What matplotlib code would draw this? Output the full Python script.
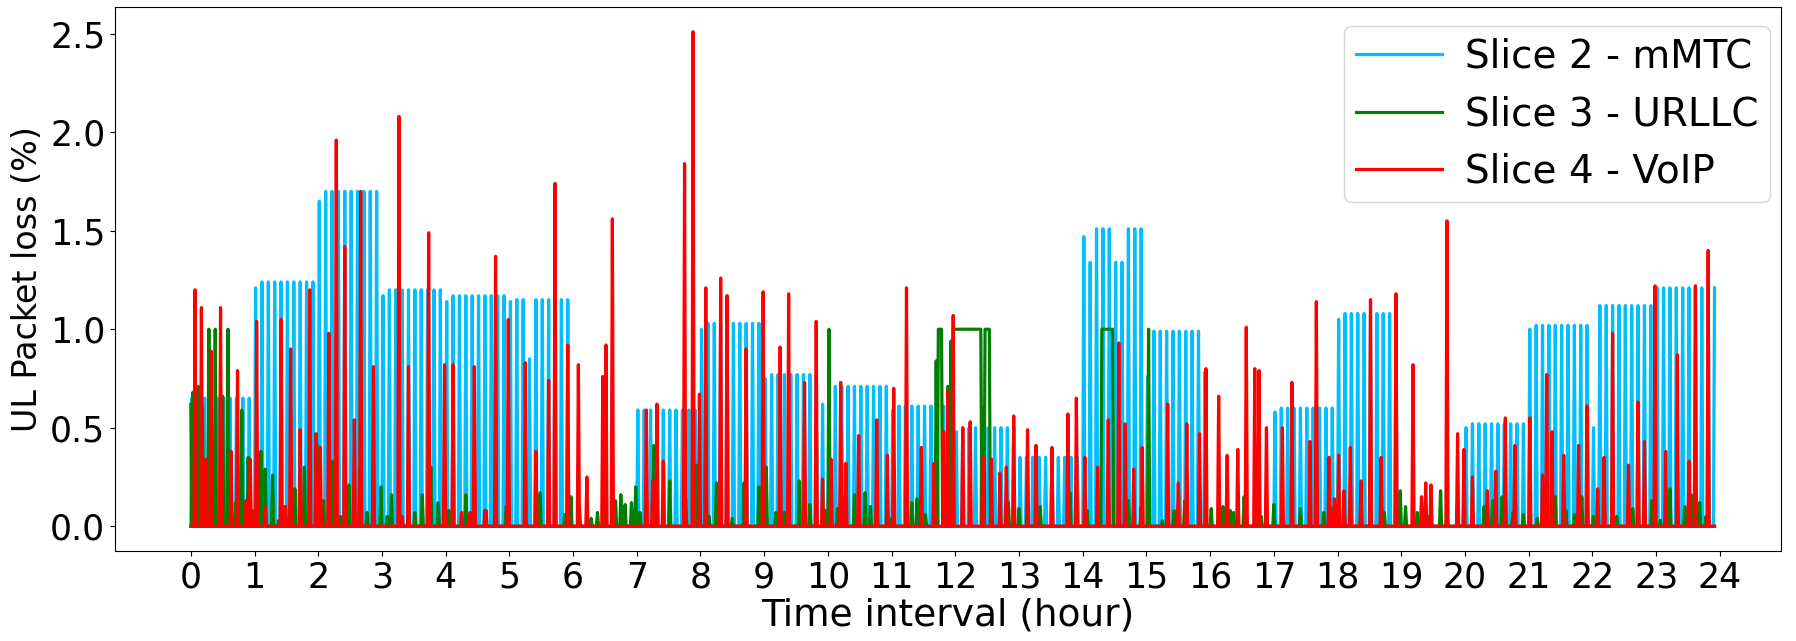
import numpy as np
import matplotlib
matplotlib.use('Agg')
import matplotlib.pyplot as plt

# one sample per minute over the day
n_min = 1436

# Slice 2 - mMTC: 10 peaks per hour (every 6 min), read hour by hour
mmtc_peaks = [
    [0.65, 0.65, 0.65, 0.65, 0.65, 0.65, 0.65, 0.65, 0.65, 0.65],  # 0
    [1.21, 1.24, 1.24, 1.24, 1.24, 1.24, 1.24, 1.24, 1.24, 1.24],  # 1
    [1.65, 1.70, 1.70, 1.70, 1.70, 1.70, 1.70, 1.70, 1.70, 1.70],  # 2
    [1.17, 1.20, 1.20, 1.20, 1.20, 1.20, 1.20, 1.20, 1.20, 1.20],  # 3
    [1.14, 1.17, 1.17, 1.17, 1.17, 1.17, 1.17, 1.17, 1.17, 1.17],  # 4
    [1.14, 1.15, 1.15, 0.85, 1.15, 1.15, 1.15, 1.15, 1.15, 1.15],  # 5
    [0, 0, 0, 0, 0, 0, 0, 0, 0, 0],                                # 6
    [0.59, 0.59, 0.59, 0.59, 0.59, 0.59, 0.59, 0.59, 0.59, 0.59],  # 7
    [1.00, 1.03, 1.03, 1.03, 1.17, 1.03, 1.03, 1.03, 1.03, 1.03],  # 8
    [0.75, 0.77, 0.77, 0.77, 0.77, 0.77, 0.77, 0.77, 0.77, 0.62],  # 9
    [0.70, 0.71, 0.71, 0.71, 0.71, 0.71, 0.71, 0.71, 0.71, 0.71],  # 10
    [0.59, 0.61, 0.61, 0.61, 0.61, 0.61, 0.61, 0.61, 0.61, 0.61],  # 11
    [0.48, 0.50, 0.50, 0.50, 0.50, 0.50, 0.50, 0.50, 0.50, 0.50],  # 12
    [0.35, 0.35, 0.35, 0.35, 0.35, 0.35, 0.35, 0.35, 0.35, 0.35],  # 13
    [1.47, 1.34, 1.51, 1.51, 1.51, 1.34, 1.34, 1.51, 1.51, 1.51],  # 14
    [0.76, 0.99, 0.99, 0.99, 0.99, 0.99, 0.99, 0.99, 0.99, 0.78],  # 15
    [0, 0, 0, 0, 0, 0, 0, 0, 0, 0],                                # 16
    [0.58, 0.60, 0.60, 0.60, 0.60, 0.60, 0.60, 0.60, 0.60, 0.60],  # 17
    [1.05, 1.08, 1.08, 1.08, 1.08, 1.08, 1.08, 1.08, 1.08, 1.08],  # 18
    [0, 0, 0, 0, 0, 0, 0, 0, 0, 0],                                # 19
    [0.50, 0.52, 0.52, 0.52, 0.52, 0.52, 0.52, 0.52, 0.52, 0.52],  # 20
    [1.00, 1.02, 1.02, 1.02, 1.02, 1.02, 1.02, 1.02, 1.02, 1.02],  # 21
    [0.50, 1.12, 1.12, 1.12, 1.12, 1.12, 1.12, 1.12, 1.12, 1.12],  # 22
    [1.21, 1.21, 1.21, 1.21, 1.21, 1.21, 1.21, 1.21, 1.21, 1.21],  # 23
]

# Slice 3 - URLLC: peaks (hour, value) and flat stretches (start, end, value)
urllc_t = [0.00, 0.03, 0.12, 0.18, 0.29, 0.39, 0.50, 0.59, 0.70, 0.80, 0.90, 0.97,
           1.10, 1.16, 1.29, 1.38, 1.49, 1.63, 1.79, 1.99, 2.09, 2.22, 2.35, 2.49,
           2.65, 2.77, 2.99, 3.08, 3.15, 3.42, 3.52, 3.63, 3.77, 3.89, 4.05, 4.32,
           4.63, 4.95, 5.25, 5.48, 5.86, 5.96, 6.10, 6.29, 6.38, 6.49, 6.66, 6.75,
           6.82, 6.92, 6.99, 7.05, 7.27, 7.52, 7.76, 7.94, 8.14, 8.25, 8.50, 8.69,
           8.91, 9.04, 9.18, 9.31, 9.39, 9.55, 9.72, 9.96, 10.01, 10.15, 10.24, 10.41,
           10.58, 10.66, 10.77, 11.00, 11.31, 11.40, 11.53, 11.66, 11.70, 11.82, 11.89, 11.94,
           12.44, 12.83, 13.00, 13.33, 13.80, 14.07, 14.71, 14.92, 15.04, 15.25, 15.43, 15.60,
           16.01, 16.20, 16.31, 16.36, 16.53, 16.80, 17.00, 17.42, 17.79, 17.90, 18.10, 18.36,
           18.74, 18.98, 19.06, 19.25, 19.42, 19.62, 19.72, 19.89, 20.30, 20.43, 20.59, 20.75,
           20.91, 21.13, 21.29, 21.41, 21.58, 21.72, 21.84, 22.01, 22.38, 22.64, 22.93, 23.06,
           23.21, 23.45, 23.55, 23.69, 23.79]
urllc_v = [0.62, 0.68, 0.71, 0.60, 1.00, 1.00, 0.66, 1.00, 0.12, 0.59, 0.35, 0.08,
           0.38, 0.29, 0.26, 0.03, 0.10, 0.19, 0.30, 0.41, 0.13, 0.33, 0.05, 0.21,
           0.29, 0.07, 0.20, 0.05, 0.16, 0.12, 0.07, 0.16, 0.30, 0.12, 0.08, 0.16,
           0.08, 0.10, 0.05, 0.17, 0.06, 0.15, 0.10, 0.04, 0.07, 0.11, 0.13, 0.16,
           0.11, 0.12, 0.20, 0.07, 0.41, 0.23, 0.14, 0.31, 0.05, 0.22, 0.04, 0.22,
           0.20, 0.30, 0.07, 0.07, 0.12, 0.23, 0.11, 0.08, 1.00, 0.09, 0.15, 0.16,
           0.17, 0.10, 0.05, 0.04, 0.12, 0.14, 0.06, 0.09, 0.84, 0.20, 0.71, 0.94,
           0.60, 0.12, 0.09, 0.10, 0.17, 0.08, 0.13, 0.10, 1.00, 0.03, 0.08, 0.13,
           0.09, 0.10, 0.08, 0.07, 0.15, 0.05, 0.11, 0.09, 0.07, 0.09, 0.06, 0.07,
           0.07, 0.18, 0.10, 0.07, 0.05, 0.18, 0.06, 0.12, 0.10, 0.13, 0.15, 0.07,
           0.06, 0.04, 0.10, 0.15, 0.08, 0.06, 0.15, 0.05, 0.05, 0.09, 0.13, 0.03,
           0.19, 0.10, 0.16, 0.12, 0.05]
urllc_flat = [(11.73, 11.79, 1.0), (11.97, 12.40, 1.0), (12.47, 12.53, 1.0),
              (14.30, 14.46, 1.0)]

# Slice 4 - VoIP: peaks (hour, value)
voip_t = [0.06, 0.16, 0.23, 0.32, 0.47, 0.63, 0.73, 0.86, 0.93, 1.03, 1.17, 1.42,
          1.49, 1.56, 1.72, 1.86, 1.96, 2.03, 2.16, 2.29, 2.42, 2.56, 2.66, 2.86,
          3.26, 3.32, 3.42, 3.73, 3.99, 4.12, 4.25, 4.39, 4.45, 4.62, 4.79, 4.98,
          5.25, 5.42, 5.61, 5.72, 5.92, 6.08, 6.22, 6.47, 6.52, 6.61, 7.15, 7.25,
          7.31, 7.41, 7.75, 7.88, 7.98, 8.08, 8.31, 8.41, 8.71, 8.98, 9.25, 9.38,
          9.64, 9.81, 9.91, 10.05, 10.20, 10.28, 10.48, 10.77, 10.94, 11.04, 11.24, 11.47,
          11.67, 11.81, 11.88, 11.97, 12.11, 12.24, 12.44, 12.57, 12.70, 12.80, 12.91, 13.14,
          13.27, 13.51, 13.77, 13.90, 14.03, 14.23, 14.40, 14.57, 14.66, 14.80, 14.94, 15.33,
          15.50, 15.63, 15.83, 15.93, 16.13, 16.26, 16.43, 16.56, 16.70, 16.76, 16.89, 17.13,
          17.29, 17.56, 17.66, 17.86, 17.95, 18.02, 18.10, 18.20, 18.36, 18.52, 18.69, 18.92,
          19.19, 19.32, 19.39, 19.46, 19.72, 19.89, 19.99, 20.12, 20.35, 20.49, 20.63, 20.79,
          21.02, 21.22, 21.29, 21.36, 21.55, 21.79, 21.92, 22.09, 22.19, 22.31, 22.56, 22.72,
          22.82, 22.98, 23.15, 23.33, 23.52, 23.62, 23.82]
voip_v = [1.20, 1.11, 0.34, 0.89, 1.11, 0.38, 0.79, 0.13, 0.34, 1.04, 0.10, 1.05,
          0.10, 0.90, 0.49, 1.20, 0.47, 0.40, 0.98, 1.96, 1.42, 0.54, 1.70, 0.81,
          2.08, 0.05, 0.81, 1.49, 0.82, 0.82, 0.07, 0.07, 0.81, 0.08, 1.37, 1.05,
          0.83, 0.38, 0.74, 1.74, 0.92, 0.82, 0.25, 0.76, 0.92, 1.56, 0.59, 0.23,
          0.62, 0.33, 1.84, 2.51, 0.67, 1.21, 1.26, 1.17, 0.90, 1.19, 0.91, 1.18,
          0.73, 1.04, 0.24, 0.34, 0.73, 0.32, 0.46, 0.54, 0.36, 0.70, 1.21, 0.40,
          0.32, 0.48, 0.69, 1.07, 0.50, 0.53, 0.35, 0.34, 0.27, 0.30, 0.56, 0.49,
          0.41, 0.40, 0.57, 0.65, 0.35, 0.30, 0.54, 0.93, 0.52, 0.29, 0.40, 0.62,
          0.22, 0.52, 0.47, 0.80, 0.66, 0.36, 0.39, 1.01, 0.80, 0.79, 0.50, 0.50,
          0.73, 0.43, 1.14, 0.35, 0.14, 0.36, 0.18, 0.40, 0.23, 1.15, 0.35, 1.18,
          0.82, 0.15, 0.22, 0.21, 1.55, 0.47, 0.39, 0.25, 0.18, 0.28, 0.55, 0.41,
          0.55, 0.26, 0.77, 0.48, 0.36, 0.41, 0.61, 0.19, 0.35, 0.98, 0.31, 0.63,
          0.43, 1.22, 0.38, 0.87, 0.33, 1.22, 1.40]


def idx(h):
    return int(round(h * 60))


hours = np.arange(n_min) / 60.0

mmtc = np.zeros(n_min)
for h, row in enumerate(mmtc_peaks):
    for k, v in enumerate(row):
        mmtc[60 * h + 6 * k + 1] = v

urllc = np.zeros(n_min)
for t0, t1, v in urllc_flat:
    urllc[idx(t0):idx(t1) + 1] = v
for t, v in zip(urllc_t, urllc_v):
    urllc[idx(t)] = v

voip = np.zeros(n_min)
for t, v in zip(voip_t, voip_v):
    voip[idx(t)] = v

fig = plt.figure(figsize=(17.96, 6.41), dpi=100)
ax = fig.add_axes([115 / 1796, 90 / 641, 1666 / 1796, 544 / 641])

ax.plot(hours, mmtc, color='deepskyblue', lw=2.3, label='Slice 2 - mMTC')
ax.plot(hours, urllc, color='green', lw=2.3, label='Slice 3 - URLLC')
ax.plot(hours, voip, color='red', lw=2.3, label='Slice 4 - VoIP')

ax.set_xlim(-1.19, 24.96)
ax.set_xticks(range(25))
ax.set_yticks([0.0, 0.5, 1.0, 1.5, 2.0, 2.5])
ax.tick_params(labelsize=25)
ax.set_xlabel('Time interval (hour)', fontsize=27)
ax.xaxis.set_label_coords(0.5, -0.085)
ax.set_ylabel('UL Packet loss (%)', fontsize=24)
ax.legend(loc='upper right', bbox_to_anchor=(0.9934, 0.965), borderaxespad=0,
          fontsize=28, handlelength=2.2, handletextpad=0.6, borderpad=0.3)

plt.savefig('out.png')
